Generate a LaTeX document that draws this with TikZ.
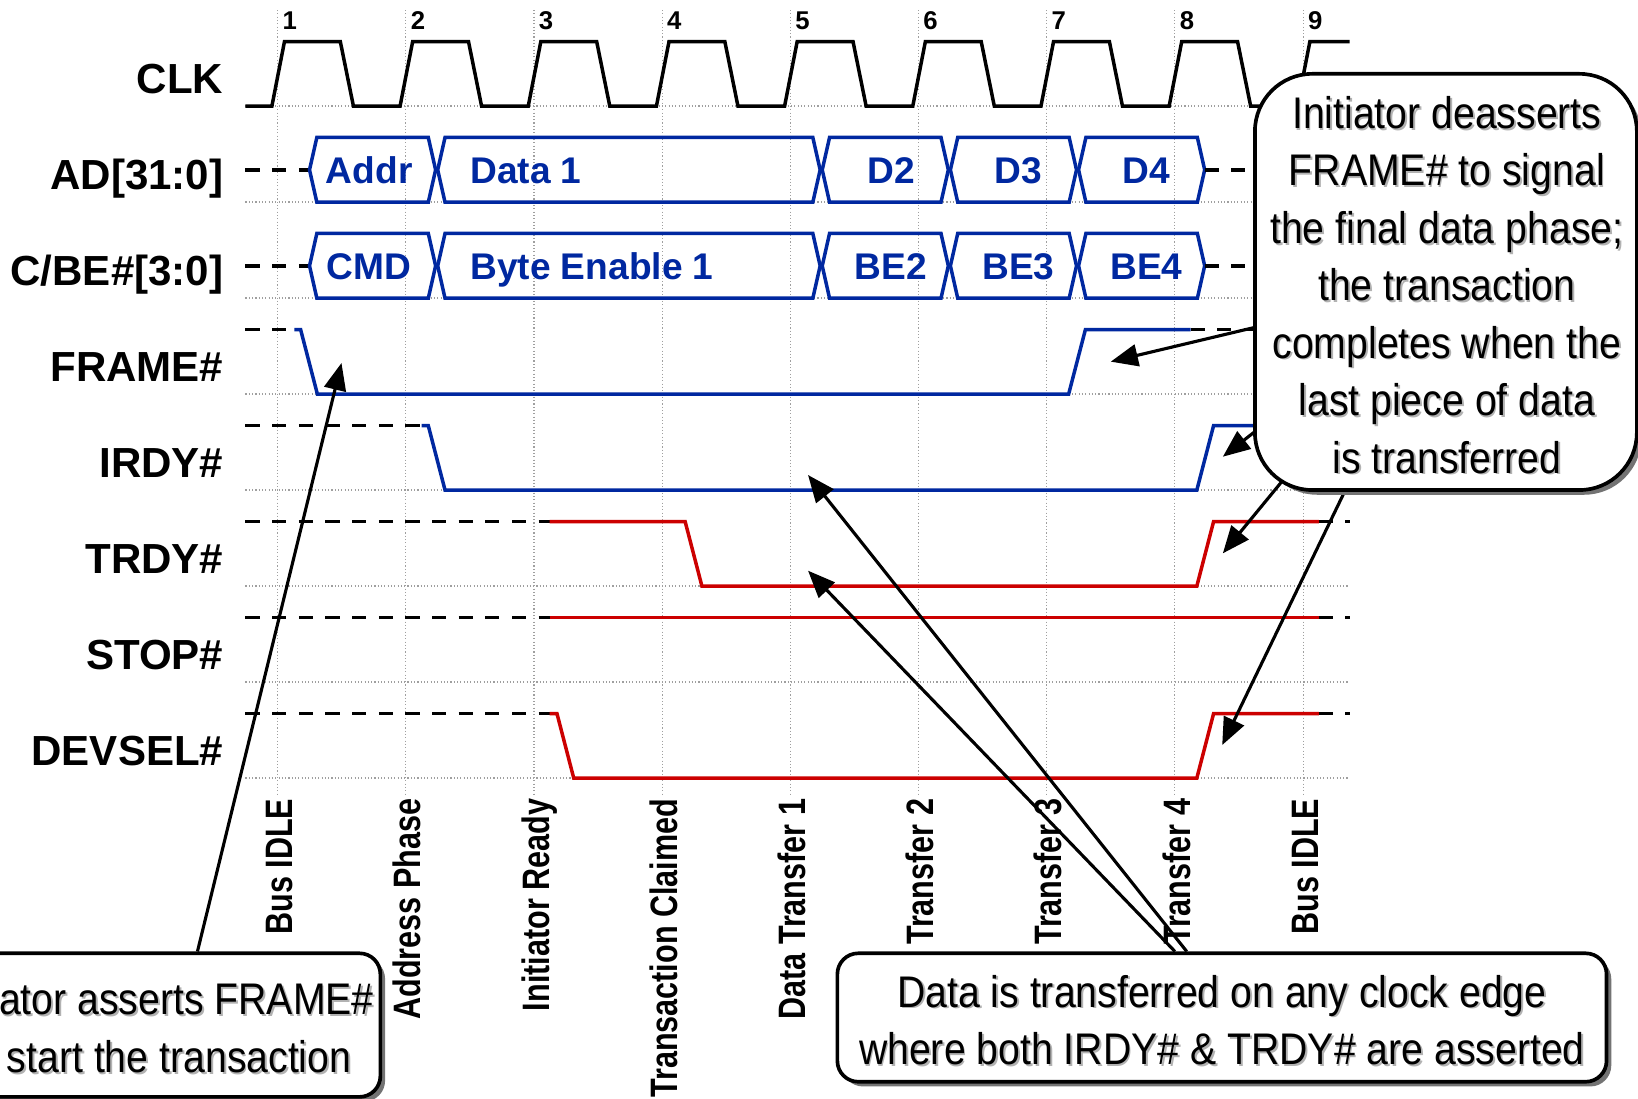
\documentclass[tikz,border=0pt]{standalone}
\usepackage{fontspec}
\setmainfont{Liberation Sans}
\newfontfamily\condfont[FakeStretch=0.885]{Liberation Sans}
\newfontfamily\phasefont[FakeStretch=0.80]{Liberation Sans}
\usetikzlibrary{arrows.meta,shadows}
\definecolor{sigblue}{HTML}{0028A0}
\definecolor{sigred}{HTML}{CC0000}
\pgfdeclarelayer{front}
\pgfsetlayers{main,front}

% one bus cell: hexagon from left point #1 to right point #2, centred on #3
\newcommand\busseg[3]{%
  \draw[bus] (#1,#3) -- (#1+7,#3-31) -- (#2-7,#3-31) -- (#2,#3)
             -- (#2-7,#3+31) -- (#1+7,#3+31) -- cycle;}

\tikzset{
  grid line/.style={gray!75, line width=0.32pt, dash pattern=on 0.3pt off 0.6pt},
  sigline/.style={line width=0.95pt, line join=miter},
  clk/.style={sigline, black},
  bus/.style={sigline, sigblue},
  blue sig/.style={sigline, sigblue},
  red sig/.style={sigline, sigred},
  idle/.style={sigline, black, dash pattern=on 0.135cm off 0.12cm},
  sig label/.style={anchor=base east, inner sep=0pt,
    font=\fontsize{11.45pt}{13pt}\selectfont\bfseries},
  tick label/.style={anchor=base west, inner sep=0pt,
    font=\fontsize{7pt}{8pt}\selectfont\bfseries},
  bus label/.style={anchor=base, inner sep=0pt, text=sigblue,
    font=\fontsize{10.1pt}{12pt}\selectfont\bfseries},
  phase label/.style={anchor=base east, rotate=90, inner sep=0pt,
    font=\phasefont\fontsize{10.4pt}{12pt}\selectfont\bfseries},
  callout/.style={draw=black, line width=1pt, fill=white, inner sep=0pt,
    drop shadow={shadow xshift=0.045cm, shadow yshift=-0.045cm,
                 fill=black!55, opacity=1}},
  note text/.style={anchor=base, inner sep=0pt,
    font=\condfont\fontsize{12.06pt}{15pt}\selectfont},
  note shadow/.style={note text, text=black!30},
  pointer/.style={line width=0.85pt, -{Triangle[length=0.26cm, width=0.21cm]}},
}

\begin{document}
\begin{tikzpicture}[x=0.01cm, y=-0.01cm]
\useasboundingbox (0,0) rectangle (1568,1052);
\fill[white] (0,0) rectangle (1568,1052);

% ---------- timing grid ----------
\foreach \gx in {265.8,388.5,511.2,633.9,756.6,879.3,1002.0,1124.7,1247.4}
  \draw[grid line] (\gx,9.6) -- (\gx,762);
\foreach \ly in {101.5,193.4,285.3,377.2,469.1,561.0,652.9,744.8}
  \draw[grid line] (235,\ly) -- (1292,\ly);

% clock edge numbers
\foreach \gx [count=\k] in {265.8,388.5,511.2,633.9,756.6,879.3,1002.0,1124.7,1247.4}
  \node[tick label] (tick\k) at (\gx+4,28.6) {\k};

% ---------- signal names ----------
\node[sig label] (nclk)   at (214.4,89.9)  {CLK};
\node[sig label] (nad)    at (214.4,181.8) {AD[31:0]};
\node[sig label] (ncbe)   at (214.4,273.7) {C/BE\#[3:0]};
\node[sig label] (nframe) at (214.4,365.6) {FRAME\#};
\node[sig label] (nirdy)  at (214.4,457.5) {IRDY\#};
\node[sig label] (ntrdy)  at (214.4,549.4) {TRDY\#};
\node[sig label] (nstop)  at (214.4,641.3) {STOP\#};
\node[sig label] (ndevsel) at (214.4,733.2) {DEVSEL\#};

% ---------- phase names ----------
\foreach \gx/\txt [count=\k] in {265.8/Bus IDLE, 388.5/Address Phase,
    511.2/Initiator Ready, 633.9/Transaction Claimed, 756.6/Data Transfer 1,
    879.3/Transfer 2, 1002.0/Transfer 3, 1124.7/Transfer 4, 1247.4/Bus IDLE}
  \node[phase label] (phase\k) at (\gx+14.5,764) {\txt};

% ---------- CLK ----------
\draw[clk] (235,101.5)
  foreach \x in {260.3,383.0,505.7,628.4,751.1,873.8,996.5,1119.2}
    { -- (\x,101.5) -- (\x+12,39.9) -- (\x+65.5,39.9) -- (\x+78,101.5) }
  -- (1241.9,101.5) -- (1253.9,39.9) -- (1292,39.9);

% ---------- AD[31:0] ----------
\draw[idle] (235,162.6) -- (296.3,162.6);
\busseg{296.3}{417.0}{162.6}
\busseg{419.0}{785.1}{162.6}
\busseg{787.1}{907.8}{162.6}
\busseg{909.8}{1030.5}{162.6}
\busseg{1032.5}{1153.2}{162.6}
\draw[idle] (1153.2,162.6) -- (1292,162.6);
\node[bus label] (baddr) at (353.5,175.9) {Addr};
\node[bus label, anchor=base west] (bdata) at (449.5,175.9) {Data 1};
\node[bus label] (bd2) at (853,175.9) {D2};
\node[bus label] (bd3) at (975,175.9) {D3};
\node[bus label] (bd4) at (1097.5,175.9) {D4};

% ---------- C/BE#[3:0] ----------
\draw[idle] (235,254.5) -- (296.3,254.5);
\busseg{296.3}{417.0}{254.5}
\busseg{419.0}{785.1}{254.5}
\busseg{787.1}{907.8}{254.5}
\busseg{909.8}{1030.5}{254.5}
\busseg{1032.5}{1153.2}{254.5}
\draw[idle] (1153.2,254.5) -- (1292,254.5);
\node[bus label] (bcmd) at (353,267.8) {CMD};
\node[bus label, anchor=base west] (bbe) at (449.5,267.8) {Byte Enable 1};
\node[bus label] (bbe2) at (852.6,267.8) {BE2};
\node[bus label] (bbe3) at (975,267.8) {BE3};
\node[bus label] (bbe4) at (1097.5,267.8) {BE4};

% ---------- FRAME# ----------
\draw[idle] (235,315.6) -- (281.8,315.6);
\draw[blue sig] (281.8,315.6) -- (287.8,315.6) -- (303.8,377.2) -- (1023,377.2)
  -- (1039,315.6) -- (1139.7,315.6);
\draw[idle] (1139.7,315.6) -- (1292,315.6);

% ---------- IRDY# ----------
\draw[idle] (235,407.5) -- (403.5,407.5);
\draw[blue sig] (403.5,407.5) -- (410.0,407.5) -- (426.0,469.1) -- (1145.7,469.1)
  -- (1161.7,407.5) -- (1262.4,407.5);
\draw[idle] (1262.4,407.5) -- (1292,407.5);

% ---------- TRDY# ----------
\draw[idle] (235,499.4) -- (526.2,499.4);
\draw[red sig] (526.2,499.4) -- (655.9,499.4) -- (671.9,561.0) -- (1145.7,561.0)
  -- (1161.7,499.4) -- (1262.4,499.4);
\draw[idle] (1262.4,499.4) -- (1292,499.4);

% ---------- STOP# ----------
\draw[idle] (235,591.3) -- (526.2,591.3);
\draw[red sig] (526.2,591.3) -- (1262.4,591.3);
\draw[idle] (1262.4,591.3) -- (1292,591.3);

% ---------- DEVSEL# ----------
\draw[idle] (235,683.2) -- (526.2,683.2);
\draw[red sig] (526.2,683.2) -- (533.2,683.2) -- (549.2,744.8) -- (1145.7,744.8)
  -- (1161.7,683.2) -- (1262.4,683.2);
\draw[idle] (1262.4,683.2) -- (1292,683.2);

% ---------- notes ----------
\begin{pgfonlayer}{front}
\begin{scope}
\clip (0,0) rectangle (1568,1052);
\node[callout, rounded corners=0.55cm, minimum width=3.654cm,
      minimum height=3.982cm] (rc) at (1384.1,269.9) {};
\node[callout, rounded corners=0.2cm, minimum width=4.28cm,
      minimum height=1.374cm] (lc) at (150,981.3) {};
\node[callout, rounded corners=0.2cm, minimum width=7.359cm,
      minimum height=1.229cm] (bc) at (1169.75,974.05) {};

\foreach \t [count=\i from 0] in {Initiator deasserts, FRAME\# to signal,
    the final data phase;, the transaction, completes when the,
    last piece of data, is transferred}
{
  \node[note shadow] (rs\i) at (1386.8,124.6+55*\i) {\t};
  \node[note text]   (rt\i) at (1385,122.8+55*\i) {\t};
}

\node[note shadow, anchor=base east] (ls1) at (360.3,973.1) {ator asserts FRAME\#};
\node[note text,   anchor=base east] (lt1) at (358.5,971.3) {ator asserts FRAME\#};
\node[note shadow, anchor=base east] (ls2) at (338.8,1028.6) {start the transaction};
\node[note text,   anchor=base east] (lt2) at (337,1026.8) {start the transaction};

\node[note shadow] (bs1) at (1171.5,965.8) {Data is transferred on any clock edge};
\node[note text]   (bt1) at (1169.7,964.0) {Data is transferred on any clock edge};
\node[note shadow] (bs2) at (1171.5,1020.5) {where both IRDY\# \& TRDY\# are asserted};
\node[note text]   (bt2) at (1169.7,1018.7) {where both IRDY\# \& TRDY\# are asserted};
\end{scope}
\end{pgfonlayer}

% ---------- pointers ----------
\coordinate (tipF) at (1063.3,346.2);
\coordinate (tipI) at (1170.6,437.2);
\coordinate (tipT) at (1170.6,529.7);
\coordinate (tipD) at (1170.0,713.2);
\draw[pointer] (rc.center) -- (tipF);
\draw[pointer] (rc.center) -- (tipI);
\draw[pointer] (rc.center) -- (tipT);
\draw[pointer] (rc.center) -- (tipD);

\coordinate (tipL) at (326.9,347.5);
\draw[pointer] ([xshift=0.39cm]lc.north) -- (tipL);

\coordinate (tipIb) at (773.5,454.7);
\coordinate (tipTb) at (773.5,546.3);
\draw[pointer] ([xshift=-0.337cm]bc.north) -- (tipIb);
\draw[pointer] ([xshift=-0.45cm]bc.north) -- (tipTb);
\end{tikzpicture}
\end{document}
